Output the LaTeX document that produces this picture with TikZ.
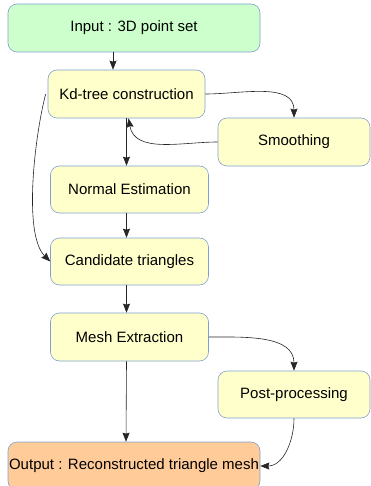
\documentclass[tikz,border=0pt]{standalone}
\usepackage{fontspec}
\setmainfont{Liberation Sans}
\usetikzlibrary{arrows.meta}
\definecolor{boxline}{HTML}{7F9FCF}
\definecolor{ingreen}{HTML}{CCFFCC}
\definecolor{stepyellow}{HTML}{FFFFCC}
\definecolor{outorange}{HTML}{FFCC99}

\begin{document}
\begin{tikzpicture}[x=1pt, y=1pt, every node/.style={rectangle, rounded corners=9pt, draw=boxline, fill=stepyellow, minimum height=48pt, inner sep=1pt, font=\fontsize{15}{18}\selectfont}, >={Stealth[length=9pt, width=7pt, inset=1pt]}, line width=0.6pt]

\tikzstyle{wide}=[minimum width=252pt]
\tikzstyle{mid}=[minimum width=158pt]
\tikzstyle{side}=[minimum width=152pt]
\tikzstyle{flow}=[->, draw=black!85]

\useasboundingbox (0,0) rectangle (371,-486);

\node[wide, fill=ingreen] (in) at (134,-28) {Input : 3D point set};
\node[minimum width=157pt] (kd) at (126.5,-94) {Kd-tree construction};
\node[side] (smooth) at (294,-142) {Smoothing};
\node[mid, minimum height=47pt] (normal) at (129.5,-189.5) {Normal Estimation};
\node[mid, minimum height=47pt] (cand) at (129.5,-261.5) {Candidate triangles};
\node[mid] (mesh) at (129.5,-337) {Mesh Extraction};
\node[side, minimum height=47pt] (post) at (294,-394.5) {Post-processing};
\node[wide, fill=outorange] (out) at (134,-466) {Output : Reconstructed triangle mesh};

\draw[flow] ([xshift=-21pt]in.south) -- ([xshift=-13.5pt]kd.north);
\draw[flow] (kd.east) to[out=0, in=90] (smooth.north);
\draw[flow] (smooth.west) to[out=180, in=-80] ([xshift=2pt]kd.south);
\draw[flow] (kd.south) -- (kd.south |- normal.north);
\draw[flow] ([xshift=-2pt]kd.west) to[out=255, in=135, looseness=0.6] (cand.west);
\draw[flow] ([xshift=-3pt]normal.south) -- ([xshift=-3pt]cand.north);
\draw[flow] ([xshift=-3pt]cand.south) -- ([xshift=-3pt]mesh.north);
\draw[flow] ([xshift=-3pt]mesh.south) -- ([xshift=-8pt]out.north);
\draw[flow] (mesh.east) to[out=0, in=90] (post.north);
\draw[flow] (post.south) to[out=-90, in=0] (out.east);
\end{tikzpicture}
\end{document}
